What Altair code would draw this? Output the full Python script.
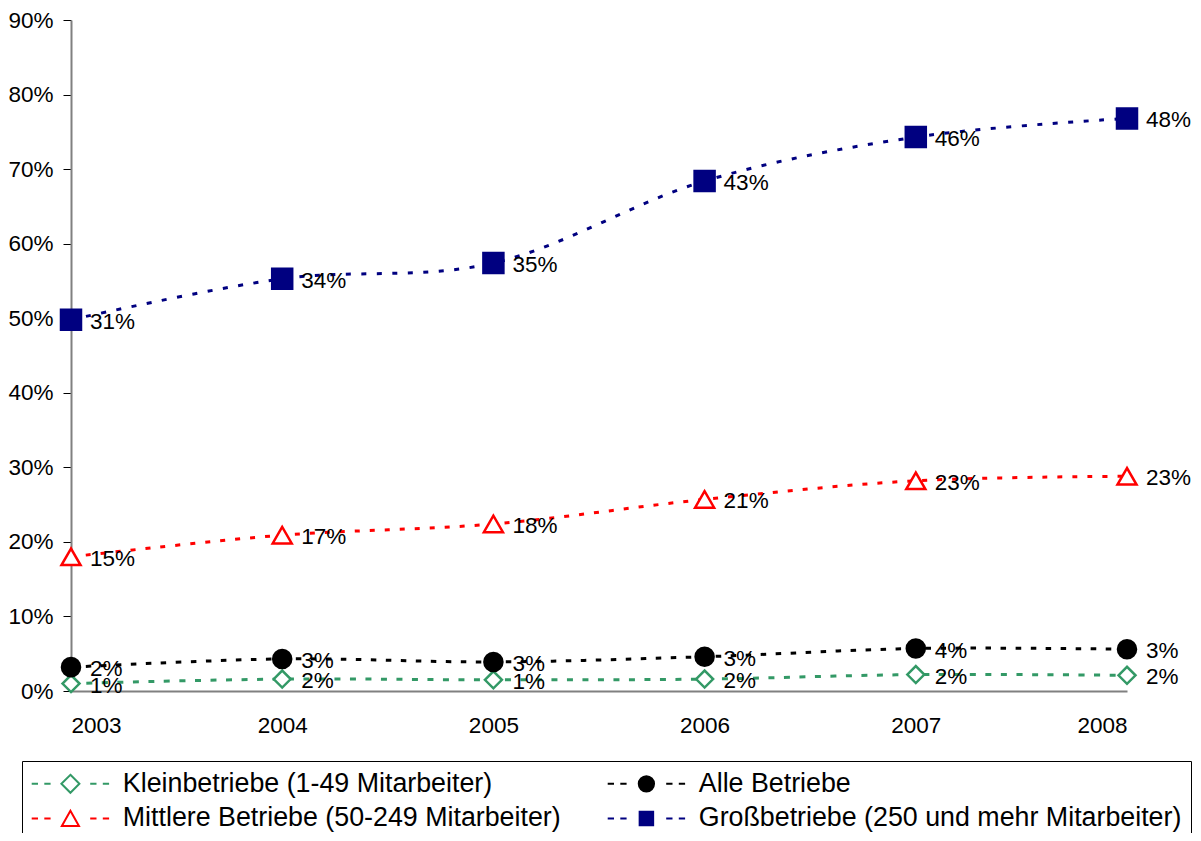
import altair as alt
import pandas as pd

years = [2003, 2004, 2005, 2006, 2007, 2008]
# order = legend order (row by row)
series = [
    "Kleinbetriebe (1-49 Mitarbeiter)",
    "Alle Betriebe",
    "Mittlere Betriebe (50-249 Mitarbeiter)",
    "Großbetriebe (250 und mehr Mitarbeiter)",
]
# plotted positions (percent)
klein = [1.0, 1.6, 1.5, 1.6, 2.2, 2.1]
alle = [3.2, 4.3, 3.9, 4.6, 5.7, 5.6]
mittlere = [18.0, 20.9, 22.4, 25.7, 28.2, 28.8]
gross = [49.8, 55.3, 57.4, 68.4, 74.3, 76.8]
# data labels as printed
klein_lbl = ["1%", "2%", "1%", "2%", "2%", "2%"]
alle_lbl = ["2%", "3%", "3%", "3%", "4%", "3%"]
mittlere_lbl = ["15%", "17%", "18%", "21%", "23%", "23%"]
gross_lbl = ["31%", "34%", "35%", "43%", "46%", "48%"]
y_ticks = [0, 10, 20, 30, 40, 50, 60, 70, 80, 90]

rows = []
for name, vals, lbls in zip(series, [klein, alle, mittlere, gross],
                            [klein_lbl, alle_lbl, mittlere_lbl, gross_lbl]):
    for yr, v, l in zip(years, vals, lbls):
        rows.append({"series": name, "year": yr, "value": v / 100.0, "label": l})
df = pd.DataFrame(rows)

colors = ["#339966", "#000000", "#FF0000", "#000080"]
fills = ["#FFFFFF", "#000000", "#FFFFFF", "#000080"]
shapes = ["diamond", "circle", "triangle-up", "square"]
sizes = [289, 400, 289, 361]
dashes = [[6, 9.5], [5.5, 9.5], [5, 10], [5, 10.5]]

dash_path = "M-4.3,0H-3.6M-2.9,0H-2.2M2.2,0H2.9M3.6,0H4.3"
legend_marks = [
    "M0,-1L1,0L0,1L-1,0Z",
    "M-0.85,0A0.85,0.85 0 1,0 0.85,0A0.85,0.85 0 1,0 -0.85,0Z",
    "M0,-0.85L0.95,0.85L-0.95,0.85Z",
    "M-0.75,-0.75H0.75V0.75H-0.75Z",
]
legend_shapes = [dash_path + m for m in legend_marks]

legend = alt.Legend(
    title=None,
    orient="none",
    legendX=-49,
    legendY=741,
    columns=2,
    direction="horizontal",
    columnPadding=42,
    rowPadding=7,
    padding=9,
    strokeColor="black",
    labelFontSize=26.8,
    labelColor="black",
    labelLimit=900,
    symbolSize=324,
    symbolStrokeWidth=2,
    symbolOpacity=1,
    symbolOffset=26,
    labelOffset=39,
)

x = alt.X(
    "year:Q",
    scale=alt.Scale(domain=[2003, 2008], nice=False, zero=False),
    axis=alt.Axis(
        values=years, format="d", title=None, ticks=False, grid=False,
        labelFontSize=22.5, labelPadding=23, labelColor="black",
        domainColor="#808080", domainWidth=2,
    ),
)
y = alt.Y(
    "value:Q",
    scale=alt.Scale(domain=[0, 0.9], nice=False),
    axis=alt.Axis(
        values=[t / 100 for t in y_ticks], format=".0%", title=None, grid=False,
        tickSize=8, tickColor="black", tickWidth=1, labelPadding=10,
        labelFontSize=22.5, labelColor="black",
        domainColor="#808080", domainWidth=2,
    ),
)

base = alt.Chart(df)

lines = base.mark_line(interpolate="cardinal", strokeWidth=3).encode(
    x=x, y=y,
    color=alt.Color("series:N", scale=alt.Scale(domain=series, range=colors), legend=None),
    strokeDash=alt.StrokeDash("series:N", scale=alt.Scale(domain=series, range=dashes), legend=None),
)

points = base.mark_point(opacity=1, strokeWidth=2.5).encode(
    x=x, y=y,
    stroke=alt.Stroke("series:N", scale=alt.Scale(domain=series, range=colors), legend=None),
    fill=alt.Fill("series:N", scale=alt.Scale(domain=series, range=fills), legend=None),
    shape=alt.Shape("series:N", scale=alt.Scale(domain=series, range=shapes), legend=None),
    size=alt.Size("series:N", scale=alt.Scale(domain=series, range=sizes), legend=None),
)

texts = base.mark_text(align="left", baseline="middle", dx=19, dy=2, fontSize=22.5, color="black").encode(
    x=x, y=y, text="label:N",
)

# legend-only layer (no rows drawn), carrying dashed-line + marker symbols
legend_layer = base.transform_filter("false").mark_point(opacity=1, strokeWidth=2, size=324).encode(
    x=x, y=y,
    stroke=alt.Stroke("series:N", scale=alt.Scale(domain=series, range=colors), legend=legend),
    fill=alt.Fill("series:N", scale=alt.Scale(domain=series, range=fills), legend=legend),
    shape=alt.Shape("series:N", scale=alt.Scale(domain=series, range=legend_shapes), legend=legend),
)

chart = (
    alt.layer(lines, points, texts, legend_layer)
    .resolve_scale(shape="independent", stroke="independent", fill="independent")
    .resolve_legend(shape="independent", stroke="independent", fill="independent")
    .properties(
        width=1056,
        height=671,
        autosize=alt.AutoSizeParams(type="none"),
        padding={"left": 63, "top": 12, "right": 66, "bottom": 142},
    )
    .configure(font="Liberation Sans")
    .configure_view(stroke=None)
)

chart.save("out.html", embed_options={"renderer": "svg", "actions": False})
